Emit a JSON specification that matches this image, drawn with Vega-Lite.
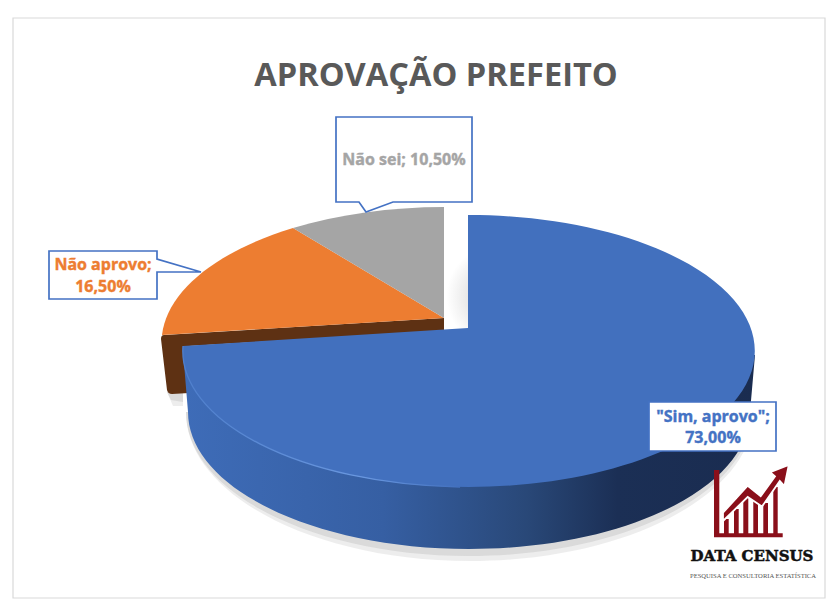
{
"$schema":"https://vega.github.io/schema/vega-lite/v6.json",
"width":838,"height":614,"padding":0,"autosize":{"type":"none"},"background":"white",
"config":{"view":{"stroke":null}},
"title":{"text":"APROVAÇÃO PREFEITO","offset":-93,"dx":17,"anchor":"middle","fontSize":32.6,"font":"Open Sans","fontWeight":"bold","color":"#595959"},
"data":{"values":[
{"resposta":"Sim, aprovo","valor":73.0,"rotulo":"\"Sim, aprovo\";|73,00%"},
{"resposta":"Não aprovo","valor":16.5,"rotulo":"Não aprovo;|16,50%"},
{"resposta":"Não sei","valor":10.5,"rotulo":"Não sei; 10,50%"}
]},
"layer":[
{"data":{"values":[{"parte":"moldura"}]},"mark":{"type":"point","size":4,"filled":false,"opacity":1,"stroke":"#d9d9d9","strokeWidth":1.2,"shape":"M -406,-289 L 406,-289 L 406,291 L -406,291 Z"}},
{"data":{"values":[{"parte":"sombra"}]},"mark":{"type":"point","size":4,"filled":true,"opacity":0.13,"fill":"#777777","strokeWidth":0,"shape":"M -233,105 A 284 149 0 0 0 335,105 Z M -252,85 L -236,85 L -236,99 L -246,99 Z"}},
{"data":{"values":[{"parte":"sombra"}]},"mark":{"type":"point","size":4,"filled":true,"opacity":0.16,"fill":"#777777","strokeWidth":0,"shape":"M -233,105 A 283 144 0 0 0 333,105 Z M -252,85 L -236,85 L -236,95 L -248,93 Z"}},
{"data":{"values":[{"parte":"sombra interna"}]},"mark":{"type":"point","size":4,"filled":true,"opacity":1,"strokeWidth":0,"shape":"M 26,-62 L 49,-62 L 49,21 L 26,21 Z","fill":{"gradient":"radial","x1":1,"y1":0.62,"r1":0,"x2":1,"y2":0.62,"r2":0.62,"stops":[{"offset":0,"color":"#d2d2d2"},{"offset":0.55,"color":"#e6e6e6"},{"offset":1,"color":"#ffffff"}]}}},
{"data":{"values":[{"parte":"lateral laranja"}]},"mark":{"type":"point","size":4,"filled":true,"opacity":1,"fill":"#5e3113","strokeWidth":0,"shape":"M -258,32 Q -258,28 -255,28 L 25,11 L 25,24 L -230,39 L -230,86 L -247,87 Q -251,87 -252,83 Z"}},
{"data":{"values":[{"parte":"lateral azul"}]},"mark":{"type":"point","size":4,"filled":true,"opacity":1,"strokeWidth":0,"shape":"M -236,44 L -231,105 A 281 137 0 0 0 331,105 L 336,48 Z","fill":{"gradient":"linear","x1":0,"y1":0,"x2":1,"y2":0,"stops":[{"offset":0,"color":"#3e6cb8"},{"offset":0.35,"color":"#365fa3"},{"offset":0.6,"color":"#294878"},{"offset":0.76,"color":"#1b2f55"},{"offset":1,"color":"#1a2c50"}]}}},
{"mark":{"type":"point","size":4,"filled":true,"opacity":1,"strokeWidth":0},
"encoding":{
"shape":{"field":"resposta","type":"nominal","legend":null,"scale":{"domain":["Sim, aprovo","Não aprovo","Não sei"],"range":["M 49,21 L 49,-92 A 286 136 0 1 1 -236,39 Z","M 25,11 L -126,-79 A 285 136 0 0 0 -257,28 Z","M 25,11 L 25,-100 A 285 136 0 0 0 -126,-79 Z"]}},
"color":{"field":"resposta","type":"nominal","legend":null,"scale":{"domain":["Sim, aprovo","Não aprovo","Não sei"],"range":["#4270be","#ed7d31","#a5a5a5"]}}
}},
{"data":{"values":[{"parte":"brilho"}]},"mark":{"type":"point","size":4,"filled":false,"opacity":1,"strokeWidth":1.3,"shape":"M -236,39 A 286 136 0 0 0 41,180","stroke":{"gradient":"linear","x1":0,"y1":0,"x2":1,"y2":0,"stops":[{"offset":0,"color":"#4f7fcc"},{"offset":0.65,"color":"#6a98e0"},{"offset":1,"color":"#4270be"}]}}},
{"data":{"values":[{"parte":"caixa"}]},"mark":{"type":"point","size":4,"filled":true,"opacity":1,"fill":"white","stroke":"#4472c4","strokeWidth":1.7,"shape":"M -83,-190 L 53,-190 L 53,-105 L -26,-105 L -53,-95 L -60,-105 L -83,-105 Z"}},
{"data":{"values":[{"parte":"caixa"}]},"mark":{"type":"point","size":4,"filled":true,"opacity":1,"fill":"white","stroke":"#4472c4","strokeWidth":1.7,"shape":"M -370,-56 L -262,-56 L -262,-48 L -218,-35 L -262,-35 L -262,-8 L -370,-8 Z"}},
{"data":{"values":[{"parte":"caixa"}]},"mark":{"type":"point","size":4,"filled":true,"opacity":1,"fill":"white","stroke":"#4472c4","strokeWidth":1.7,"shape":"M 230,95 L 357,95 L 357,144 L 230,144 Z"}},
{"transform":[{"filter":"datum.resposta === 'Não sei'"}],"mark":{"type":"text","font":"Open Sans","fontWeight":"bold","fontSize":16,"align":"center","baseline":"middle","color":"#a5a5a5","stroke":"#a5a5a5","strokeWidth":0.4,"dx":-15,"dy":-147,"lineBreak":"|"},"encoding":{"text":{"field":"rotulo"}}},
{"transform":[{"filter":"datum.resposta === 'Não aprovo'"}],"mark":{"type":"text","font":"Open Sans","fontWeight":"bold","fontSize":16,"align":"center","baseline":"middle","color":"#ed7d31","stroke":"#ed7d31","strokeWidth":0.4,"dx":-316,"dy":-42,"lineBreak":"|","lineHeight":22},"encoding":{"text":{"field":"rotulo"}}},
{"transform":[{"filter":"datum.resposta === 'Sim, aprovo'"}],"mark":{"type":"text","font":"Open Sans","fontWeight":"bold","fontSize":16,"align":"center","baseline":"middle","color":"#4472c4","stroke":"#4472c4","strokeWidth":0.4,"dx":294,"dy":110,"lineBreak":"|","lineHeight":21},"encoding":{"text":{"field":"rotulo"}}},
{"data":{"values":[{"parte":"logo"}]},"mark":{"type":"point","size":4,"filled":true,"opacity":1,"fill":"#8a0f1a","strokeWidth":0,"shape":"M 295,163 L 300.3,163 L 300.3,226.3 L 363.7,226.3 L 363.7,230.3 L 295,230.3 Z M 305,212 L 309.7,212 L 309.7,227 L 305,227 Z M 315,202 L 319.7,202 L 319.7,227 L 315,227 Z M 324.3,190 L 329.3,190 L 329.3,227 L 324.3,227 Z M 334.3,192 L 339,192 L 339,227 L 334.3,227 Z M 344.3,196 L 349,196 L 349,227 L 344.3,227 Z M 354.3,180 L 358.7,180 L 358.7,227 L 354.3,227 Z"}},
{"data":{"values":[{"parte":"logo"}]},"mark":{"type":"point","size":4,"filled":true,"opacity":1,"fill":"#8a0f1a","stroke":"white","strokeWidth":1.8,"shape":"M 304,205.7 L 328.7,178.7 L 341.7,189.3 L 356,169.3 L 351.2,165.2 L 369.8,158 L 365.5,179 L 360.8,174 L 343,199.5 L 328.7,190 L 304,214 Z"}},
{"data":{"values":[{"marca":"DATA CENSUS"}]},"mark":{"type":"text","font":"DejaVu Serif","fontWeight":"bold","fontSize":15,"align":"center","baseline":"middle","color":"#111111","stroke":"#111111","strokeWidth":0.5,"dx":333,"dy":249},"encoding":{"text":{"field":"marca"}}},
{"data":{"values":[{"marca":"PESQUISA E CONSULTORIA ESTATÍSTICA"}]},"mark":{"type":"text","font":"Liberation Serif","fontSize":6.6,"align":"center","baseline":"middle","color":"#555555","dx":334,"dy":269},"encoding":{"text":{"field":"marca"}}}
]
}
